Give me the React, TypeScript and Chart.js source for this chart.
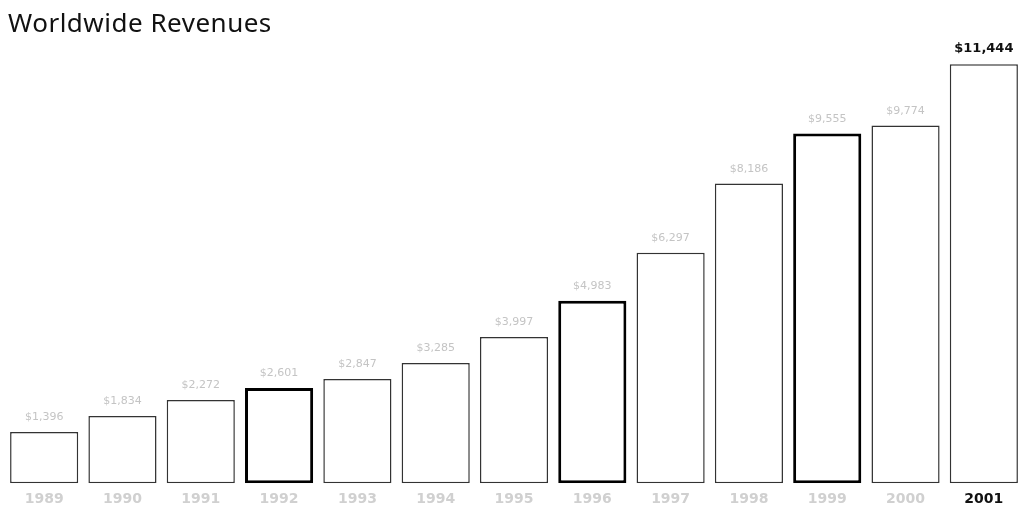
import React, { useEffect, useRef } from "react";
import { Chart, registerables } from "chart.js";

Chart.register(...registerables);

const years = ["1989", "1990", "1991", "1992", "1993", "1994", "1995", "1996", "1997", "1998", "1999", "2000", "2001"];
const revenues = [1396, 1834, 2272, 2601, 2847, 3285, 3997, 4983, 6297, 8186, 9555, 9774, 11444];
const valueLabels = ["$1,396", "$1,834", "$2,272", "$2,601", "$2,847", "$3,285", "$3,997", "$4,983", "$6,297", "$8,186", "$9,555", "$9,774", "$11,444"];
const thickBars = [3, 7, 10];

const valueLabelPlugin = {
  id: "valueLabels",
  afterDatasetsDraw(chart: any) {
    const ctx = chart.ctx;
    const meta = chart.getDatasetMeta(0);
    ctx.save();
    ctx.textAlign = "center";
    ctx.textBaseline = "bottom";
    meta.data.forEach((bar: any, i: number) => {
      const last = i === meta.data.length - 1;
      ctx.font = `${last ? "bold 13px" : "11px"} "DejaVu Sans"`;
      ctx.fillStyle = last ? "#111" : "#c4c4c4";
      ctx.fillText(valueLabels[i], bar.x, bar.y - 9);
    });
    ctx.restore();
  },
};

export default function App() {
  const ref = useRef<HTMLCanvasElement | null>(null);
  useEffect(() => {
    if (!ref.current) return;
    const chart = new Chart(ref.current, {
      type: "bar",
      data: {
        labels: years,
        datasets: [
          {
            data: revenues,
            backgroundColor: "#ffffff",
            borderColor: revenues.map((_, i) => (thickBars.includes(i) ? "#000" : "#333")),
            borderWidth: revenues.map((_, i) => (thickBars.includes(i) ? 3 : 1.5)),
            borderSkipped: false,
            categoryPercentage: 1,
            barPercentage: 0.87,
          },
        ],
      },
      options: {
        animation: false,
        responsive: false,
        maintainAspectRatio: false,
        layout: { padding: { top: 44, bottom: 23, left: 5, right: 4 } },
        plugins: { legend: { display: false }, tooltip: { enabled: false }, title: { display: false } },
        scales: {
          x: {
            grid: { display: false },
            border: { display: false },
            ticks: {
              padding: 0,
              font: { size: 14, weight: "bold", family: "DejaVu Sans" },
              color: (c: any) => (c.index === years.length - 1 ? "#111" : "#d0d0d0"),
            },
          },
          y: { display: false, min: 0, max: 12000 },
        },
      },
      plugins: [valueLabelPlugin],
    });
    return () => chart.destroy();
  }, []);

  return (
    <div style={{ position: "absolute", left: 0, top: 0, width: 1027, height: 531, background: "#fff" }}>
      <canvas ref={ref} width={1027} height={531} style={{ position: "absolute", left: 0, top: 0 }} />
      <div
        style={{
          position: "absolute",
          left: 8,
          top: 4,
          fontFamily: "'Noto Sans', sans-serif",
          fontSize: 26,
          color: "#111",
          letterSpacing: 0.5,
        }}
      >
        Worldwide Revenues
      </div>
    </div>
  );
}
